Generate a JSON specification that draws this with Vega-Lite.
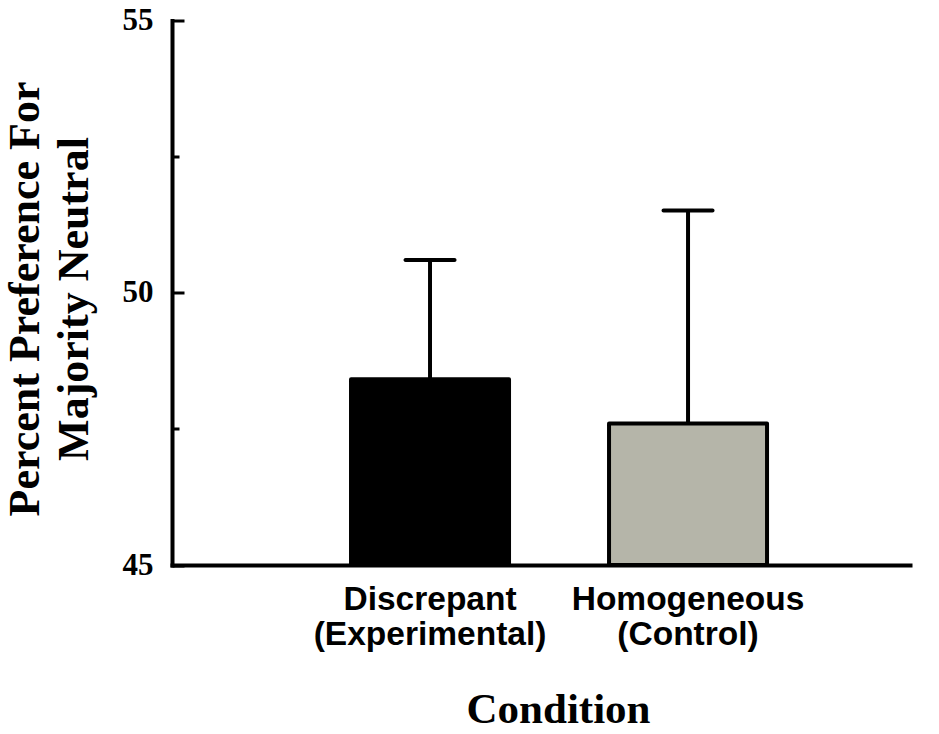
{
  "$schema": "https://vega.github.io/schema/vega-lite/v6.json",
  "autosize": {"type": "none"},
  "padding": {"left": 172, "top": 20.5, "right": 29, "bottom": 169},
  "width": 738,
  "height": 544.5,
  "background": "white",
  "data": {
    "values": [
      {"condition": "Discrepant|(Experimental)", "mean": 48.41, "upper": 50.6},
      {"condition": "Homogeneous|(Control)", "mean": 47.6, "upper": 51.51}
    ]
  },
  "encoding": {
    "x": {
      "field": "condition",
      "type": "nominal",
      "sort": null,
      "scale": {"paddingInner": 0.3876, "paddingOuter": 0.624, "align": 0.556},
      "axis": {
        "title": "Condition",
        "titleFont": "Liberation Serif",
        "titleFontWeight": "bold",
        "titleFontSize": 43,
        "titleColor": "black",
        "titlePadding": 38,
        "titleX": 386,
        "labelExpr": "split(datum.label, '|')",
        "labelFont": "Liberation Sans",
        "labelFontWeight": "bold",
        "labelFontSize": 33.5,
        "labelLineHeight": 35,
        "labelLimit": 0,
        "labelColor": "black",
        "labelAngle": 0,
        "labelPadding": 18,
        "ticks": false,
        "domainColor": "black",
        "domainWidth": 4,
        "domainCap": "square"
      }
    }
  },
  "layer": [
    {
      "mark": {"type": "rule", "color": "black", "strokeWidth": 4},
      "encoding": {
        "y": {"field": "mean", "type": "quantitative"},
        "y2": {"field": "upper"}
      }
    },
    {
      "mark": {"type": "bar", "stroke": "black", "strokeWidth": 4, "strokeJoin": "round"},
      "encoding": {
        "y": {
          "field": "mean",
          "type": "quantitative",
          "scale": {"domain": [45, 55], "zero": false, "nice": false},
          "axis": {
            "title": ["Percent Preference For", "Majority Neutral"],
            "titleFont": "Liberation Serif",
            "titleFontWeight": "bold",
            "titleFontSize": 44,
            "titleLineHeight": 49,
            "titleColor": "black",
            "titlePadding": 26,
            "titleY": 278,
            "values": [45, 47.5, 50, 52.5, 55],
            "labelExpr": "datum.value % 5 === 0 ? format(datum.value, 'd') : ''",
            "labelFont": "Liberation Serif",
            "labelFontWeight": "bold",
            "labelFontSize": 31,
            "labelColor": "black",
            "labelPadding": 31,
            "tickSize": {"condition": {"test": "datum.value % 5 === 0", "value": -12}, "value": -7},
            "tickWidth": 3,
            "tickColor": "black",
            "grid": false,
            "domainColor": "black",
            "domainWidth": 4,
            "domainCap": "square"
          }
        },
        "y2": {"datum": 45},
        "fill": {
          "field": "condition",
          "type": "nominal",
          "sort": null,
          "scale": {"range": ["#000000", "#b5b5a9"]},
          "legend": null
        }
      }
    },
    {
      "mark": {"type": "tick", "color": "black", "size": 53, "thickness": 4, "cornerRadius": 2, "opacity": 1},
      "encoding": {
        "y": {"field": "upper", "type": "quantitative"}
      }
    }
  ],
  "config": {
    "view": {"stroke": null}
  }
}
